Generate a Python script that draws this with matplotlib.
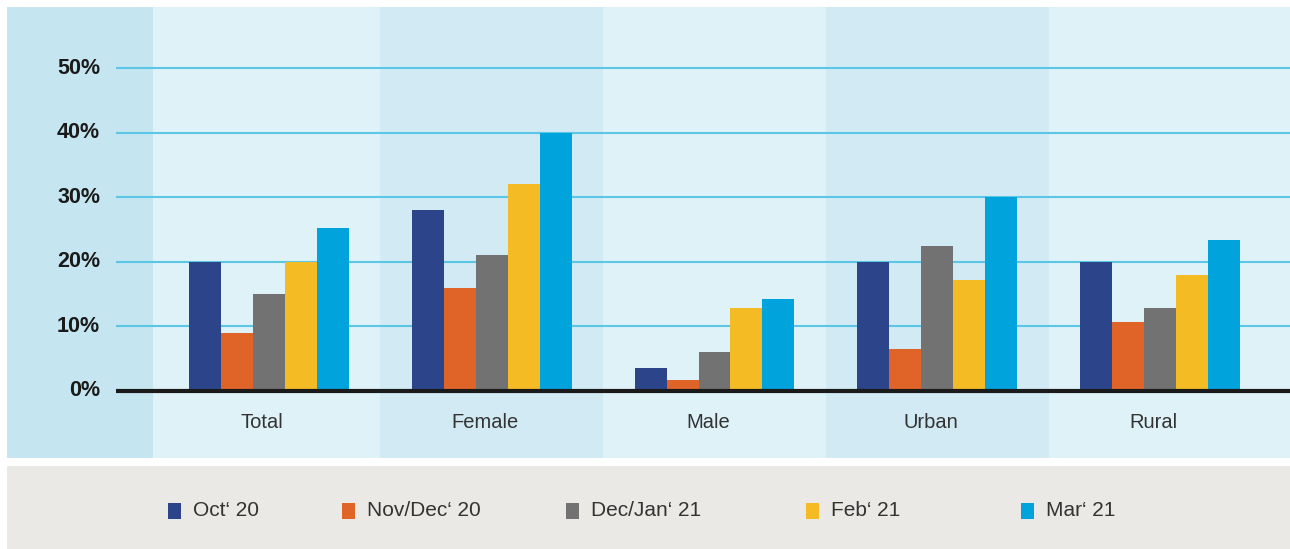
import matplotlib

matplotlib.use("Agg")
import matplotlib.pyplot as plt
from matplotlib.patches import Rectangle

plt.rcParams["font.family"] = ["Liberation Sans", "DejaVu Sans"]

# data (share of respondents, %)
categories = ["Total", "Female", "Male", "Urban", "Rural"]
series = ["Oct‘ 20", "Nov/Dec‘ 20", "Dec/Jan‘ 21", "Feb‘ 21", "Mar‘ 21"]
oct20 = [20, 28, 3.5, 20, 20]
novdec20 = [9, 16, 1.7, 6.4, 10.6]
decjan21 = [15, 21, 6, 22.4, 12.8]
feb21 = [20, 32, 12.8, 17.2, 18]
mar21 = [25.3, 40, 14.3, 30, 23.3]
yticks = [0, 10, 20, 30, 40, 50]

values = [oct20, novdec20, decjan21, feb21, mar21]
colors = ["#2c4489", "#e06428", "#717271", "#f4bb24", "#00a3dc"]
band_left = "#c5e6f0"
band_light = "#dff2f8"
band_dark = "#d2eaf4"
grid_col = "#5cc6e6"

W, H = 1290, 549
fig = plt.figure(figsize=(W / 100, H / 100), dpi=100)
fig.patch.set_facecolor("white")

# main panel spans px 7..1290 horizontally, 7..458 vertically
ax = fig.add_axes([7 / W, (H - 458) / H, (W - 7) / W, (458 - 7) / H])
xmin, xmax = -1.173, 4.581
ax.set_xlim(xmin, xmax)
ax.set_ylim(-10.43, 59.5)
ax.axis("off")

ax.axvspan(xmin, -0.518, color=band_left, lw=0, zorder=0)
for i in range(len(categories)):
    lo = -0.518 if i == 0 else i - 0.5
    hi = xmax if i == len(categories) - 1 else i + 0.5
    ax.axvspan(lo, hi, color=band_dark if i % 2 else band_light, lw=0, zorder=0)

grid_x0 = -0.684
for y in yticks[1:]:
    ax.hlines(y, grid_x0, xmax, color=grid_col, lw=1.5, zorder=1)
for y in yticks:
    ax.text(-0.755, y, f"{y}%", ha="right", va="center", fontsize=15.5,
            fontweight="bold", color="#1a1a1a")

w = 0.1435
for k, (vals, c) in enumerate(zip(values, colors)):
    xs = [i + (k - 2) * w for i in range(len(categories))]
    ax.bar(xs, vals, width=w, color=c, lw=0, zorder=2)

ax.hlines(0, grid_x0, xmax, color="#1a1a1a", lw=3, zorder=3)

for i, name in enumerate(categories):
    ax.text(i - 0.03, -5.0, name, ha="center", va="center", fontsize=14.5,
            color="#333333")

# legend strip
lax = fig.add_axes([7 / W, 0, (W - 7) / W, 83 / H])
lax.set_xlim(7, W)
lax.set_ylim(0, 83)
lax.axis("off")
lax.add_patch(Rectangle((7, 0), W - 7, 83, color="#ebe9e6", lw=0))
leg_x = [168, 342, 566, 806, 1021]
for x, c, lab in zip(leg_x, colors, series):
    lax.add_patch(Rectangle((x, 30), 13, 16, color=c, lw=0))
    lax.text(x + 25, 38, lab, ha="left", va="center", fontsize=15,
             color="#333333")

fig.savefig("out.png", dpi=100)
